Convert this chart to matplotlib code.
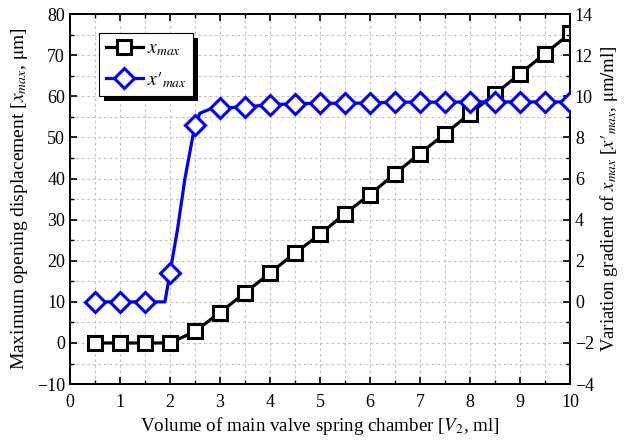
import numpy as np
import matplotlib; matplotlib.use("Agg")
import matplotlib.pyplot as plt
from matplotlib.patches import Rectangle
from matplotlib.ticker import MultipleLocator

plt.rcParams["font.family"] = ["Liberation Serif", "DejaVu Serif"]
plt.rcParams["mathtext.fontset"] = "stix"

# Spring chamber volume V2 (ml), marker positions
v2 = [0.5, 1.0, 1.5, 2.0, 2.5, 3.0, 3.5, 4.0, 4.5, 5.0,
      5.5, 6.0, 6.5, 7.0, 7.5, 8.0, 8.5, 9.0, 9.5, 10.0]

# Maximum opening displacement x_max (um)
x_max = [0.0, 0.0, 0.0, 0.0, 2.8, 7.4, 12.2, 17.0, 21.9, 26.4,
         31.5, 36.1, 41.2, 46.1, 50.9, 55.8, 60.6, 65.5, 70.4, 75.3]

# Gradient x'_max (um/ml) at the marker positions
dx_max = [0.0, 0.0, 0.0, 1.4, 8.6, 9.42, 9.5, 9.58, 9.65, 9.66,
          9.67, 9.68, 9.72, 9.72, 9.72, 9.73, 9.73, 9.73, 9.73, 9.73]

# finer sampling used for the gradient curve itself
v2_fine = [0.5, 1.0, 1.5, 1.9, 2.0, 2.15, 2.3, 2.5, 2.6, 2.8, 3.0, 3.5,
           4.0, 4.5, 5.0, 5.5, 6.0, 6.5, 7.0, 7.5, 8.0, 8.5, 9.0, 9.5, 10.0]
dx_fine = [0.0, 0.0, 0.0, 0.0, 1.4, 3.5, 6.0, 8.6, 9.18, 9.38, 9.42, 9.5,
           9.58, 9.65, 9.66, 9.67, 9.68, 9.72, 9.72, 9.72, 9.73, 9.73, 9.73, 9.73, 9.73]

fig = plt.figure(figsize=(6.24, 4.43), dpi=100)
ax = fig.add_axes([0.112, 0.133, 0.8015, 0.835])
ax2 = ax.twinx()

ax.plot(v2, x_max, color="black", lw=2.3, marker="s", ms=10,
        mfc="white", mec="black", mew=2.2, zorder=3)

ax2.plot(v2_fine, dx_fine, color="#0000ff", lw=2.3, zorder=3)
ax2.plot(v2, dx_max, ls="none", marker="D", ms=10.5,
         mfc="white", mec="#0000ff", mew=2.2, zorder=4)

ax.set_xlim(0, 10)
ax.set_ylim(-10, 80)
ax2.set_ylim(-4, 14)

ax.xaxis.set_major_locator(MultipleLocator(1))
ax.xaxis.set_minor_locator(MultipleLocator(0.5))
ax.yaxis.set_major_locator(MultipleLocator(10))
ax.yaxis.set_minor_locator(MultipleLocator(5))
ax2.yaxis.set_major_locator(MultipleLocator(2))
ax2.yaxis.set_minor_locator(MultipleLocator(1))

ax.grid(True, which="both", color="#c4c4c4", ls=(0, (2.5, 2.5)), lw=0.8)
ax.set_axisbelow(True)

ax.tick_params(axis="x", which="both", direction="in", top=True, pad=7)
ax.tick_params(axis="y", which="both", direction="in", left=True, right=False)
ax2.tick_params(axis="y", which="both", direction="in")
for a in (ax, ax2):
    a.tick_params(which="major", length=5, width=1.2, labelsize=13)
    a.tick_params(which="minor", length=3, width=1.0)
    for s in a.spines.values():
        s.set_linewidth(1.3)

ax.set_xlabel("Volume of main valve spring chamber [$V_2$, ml]", fontsize=13.7,
              labelpad=3)
ax.set_ylabel(r"Maximum opening displacement [$x_{max}$, $\mathrm{\mu m}$]",
              fontsize=14, labelpad=5)
ax2.set_ylabel("Variation gradient of $x_{max}$ [$x\u2032_{max}$, $\\mathrm{\\mu m/ml}$]",
               fontsize=13.5, labelpad=3)

h1 = plt.Line2D([], [], color="black", lw=2.3, marker="s", ms=10,
                mfc="white", mec="black", mew=2.2)
h2 = plt.Line2D([], [], color="#0000ff", lw=2.3, marker="D", ms=10.5,
                mfc="white", mec="#0000ff", mew=2.2)
leg = ax2.legend([h1, h2], ["$x_{max}$", "$x\u2032_{max}$"], loc="upper left",
                 bbox_to_anchor=(0.058, 0.949), borderaxespad=0, fontsize=14,
                 frameon=True, fancybox=False, edgecolor="black", framealpha=1,
                 handlelength=1.9, borderpad=0.35, labelspacing=0.6,
                 handletextpad=0.2)
leg.get_frame().set_linewidth(0.8)
leg.set_zorder(10)

# solid drop shadow behind the legend box
fig.canvas.draw()
bb = leg.get_frame().get_window_extent()
ax2.add_patch(Rectangle((bb.x0 + 5, bb.y0 - 5), bb.width, bb.height,
                        transform=None, facecolor="black", edgecolor="none",
                        clip_on=False, zorder=9))

fig.savefig("out.png", dpi=100)
